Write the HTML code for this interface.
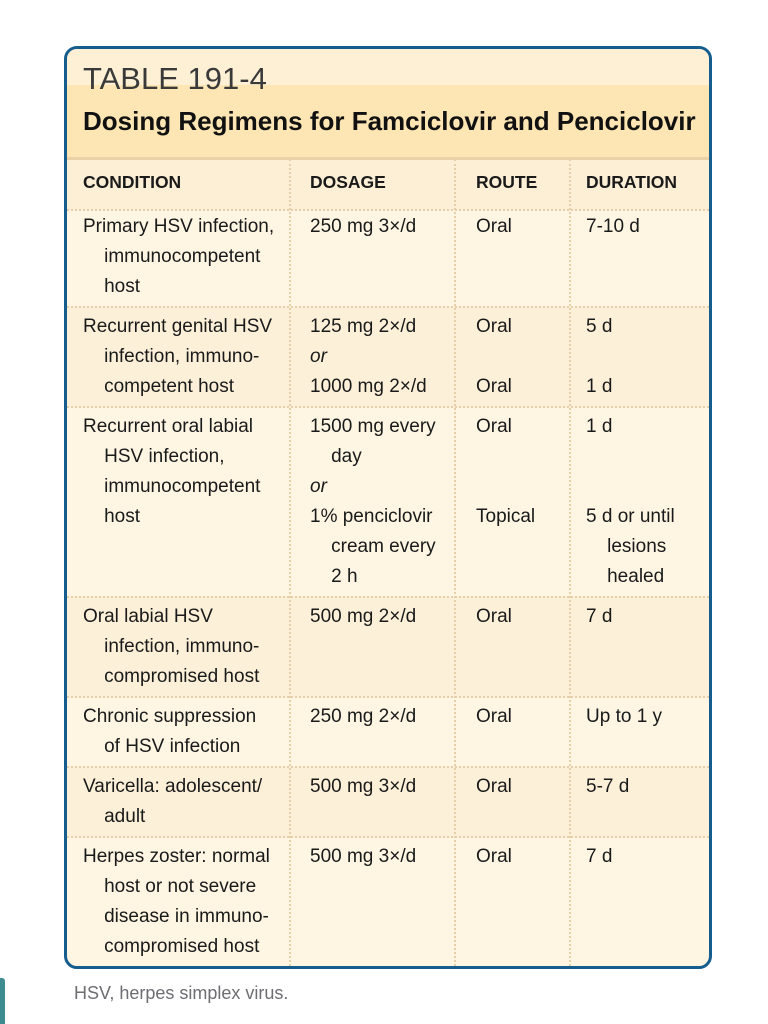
<!DOCTYPE html>
<html><head><style>
body{margin:0;width:768px;height:1024px;background:#fff;position:relative;overflow:hidden;font-family:"Liberation Sans",sans-serif;}
.box{position:absolute;left:64px;top:46px;width:642px;height:917px;border:3px solid #155d8e;border-radius:13px;overflow:hidden;background:#fef5e3;}
.band{position:absolute;left:0;width:100%;}
.t{position:absolute;font-size:19px;color:#1a1a1a;line-height:30px;white-space:nowrap;}
.h{font-weight:bold;font-size:17.5px;}
.hl{position:absolute;left:0;width:100%;height:0;border-top:2px dotted #e6cfa8;}
.vl{position:absolute;top:110px;bottom:0;width:0;border-left:2px dotted #e6cfa8;}
i{font-style:italic;}
</style></head><body>
<div class="box">
 <div class="band" style="top:0;height:36px;background:#fdf0d4"></div>
 <div class="band" style="top:36px;height:72px;background:#fde6b3"></div>
 <div class="band" style="top:108px;height:3px;background:#ead2a6"></div>
 <div class="band" style="top:111px;height:50px;background:#fdefd6"></div>
 <div class="band" style="top:258px;height:100px;background:#fdf0d9"></div>
 <div class="band" style="top:548px;height:100px;background:#fdf0d9"></div>
 <div class="band" style="top:718px;height:70px;background:#fdf0d9"></div>
 <div style="position:absolute;left:16px;top:12px;font-size:31px;color:#3a3a3a;">TABLE 191-4</div>
 <div style="position:absolute;left:16px;top:57px;font-size:26px;font-weight:bold;color:#111;">Dosing Regimens for Famciclovir and Penciclovir</div>
 <div class="vl" style="left:222px"></div>
 <div class="vl" style="left:387px"></div>
 <div class="vl" style="left:502px"></div>
 <div class="hl" style="top:160px"></div>
 <div class="hl" style="top:257px"></div>
 <div class="hl" style="top:357px"></div>
 <div class="hl" style="top:547px"></div>
 <div class="hl" style="top:647px"></div>
 <div class="hl" style="top:717px"></div>
 <div class="hl" style="top:787px"></div>
</div>
<div class="t h" style="left:83px;top:167px">CONDITION</div>
<div class="t h" style="left:310px;top:167px">DOSAGE</div>
<div class="t h" style="left:476px;top:167px">ROUTE</div>
<div class="t h" style="left:586px;top:167px">DURATION</div>

<div class="t" style="left:83px;top:212px">Primary HSV infection,<br>&nbsp;&nbsp;&nbsp;&nbsp;immunocompetent<br>&nbsp;&nbsp;&nbsp;&nbsp;host</div>
<div class="t" style="left:310px;top:212px">250 mg 3×/d</div>
<div class="t" style="left:476px;top:212px">Oral</div>
<div class="t" style="left:586px;top:212px">7-10 d</div>

<div class="t" style="left:83px;top:312px">Recurrent genital HSV<br>&nbsp;&nbsp;&nbsp;&nbsp;infection, immuno-<br>&nbsp;&nbsp;&nbsp;&nbsp;competent host</div>
<div class="t" style="left:310px;top:312px">125 mg 2×/d<br><i>or</i><br>1000 mg 2×/d</div>
<div class="t" style="left:476px;top:312px">Oral<br><br>Oral</div>
<div class="t" style="left:586px;top:312px">5 d<br><br>1 d</div>

<div class="t" style="left:83px;top:412px">Recurrent oral labial<br>&nbsp;&nbsp;&nbsp;&nbsp;HSV infection,<br>&nbsp;&nbsp;&nbsp;&nbsp;immunocompetent<br>&nbsp;&nbsp;&nbsp;&nbsp;host</div>
<div class="t" style="left:310px;top:412px">1500 mg every<br>&nbsp;&nbsp;&nbsp;&nbsp;day<br><i>or</i><br>1% penciclovir<br>&nbsp;&nbsp;&nbsp;&nbsp;cream every<br>&nbsp;&nbsp;&nbsp;&nbsp;2 h</div>
<div class="t" style="left:476px;top:412px">Oral<br><br><br>Topical</div>
<div class="t" style="left:586px;top:412px">1 d<br><br><br>5 d or until<br>&nbsp;&nbsp;&nbsp;&nbsp;lesions<br>&nbsp;&nbsp;&nbsp;&nbsp;healed</div>

<div class="t" style="left:83px;top:602px">Oral labial HSV<br>&nbsp;&nbsp;&nbsp;&nbsp;infection, immuno-<br>&nbsp;&nbsp;&nbsp;&nbsp;compromised host</div>
<div class="t" style="left:310px;top:602px">500 mg 2×/d</div>
<div class="t" style="left:476px;top:602px">Oral</div>
<div class="t" style="left:586px;top:602px">7 d</div>

<div class="t" style="left:83px;top:702px">Chronic suppression<br>&nbsp;&nbsp;&nbsp;&nbsp;of HSV infection</div>
<div class="t" style="left:310px;top:702px">250 mg 2×/d</div>
<div class="t" style="left:476px;top:702px">Oral</div>
<div class="t" style="left:586px;top:702px">Up to 1 y</div>

<div class="t" style="left:83px;top:772px">Varicella: adolescent/<br>&nbsp;&nbsp;&nbsp;&nbsp;adult</div>
<div class="t" style="left:310px;top:772px">500 mg 3×/d</div>
<div class="t" style="left:476px;top:772px">Oral</div>
<div class="t" style="left:586px;top:772px">5-7 d</div>

<div class="t" style="left:83px;top:842px">Herpes zoster: normal<br>&nbsp;&nbsp;&nbsp;&nbsp;host or not severe<br>&nbsp;&nbsp;&nbsp;&nbsp;disease in immuno-<br>&nbsp;&nbsp;&nbsp;&nbsp;compromised host</div>
<div class="t" style="left:310px;top:842px">500 mg 3×/d</div>
<div class="t" style="left:476px;top:842px">Oral</div>
<div class="t" style="left:586px;top:842px">7 d</div>

<div class="t" style="left:74px;top:978px;color:#6d6d72;font-size:18px">HSV, herpes simplex virus.</div>
<div style="position:absolute;left:0;top:978px;width:5px;height:46px;background:#3e8c8f;border-radius:0 3px 0 0"></div>
</body></html>
